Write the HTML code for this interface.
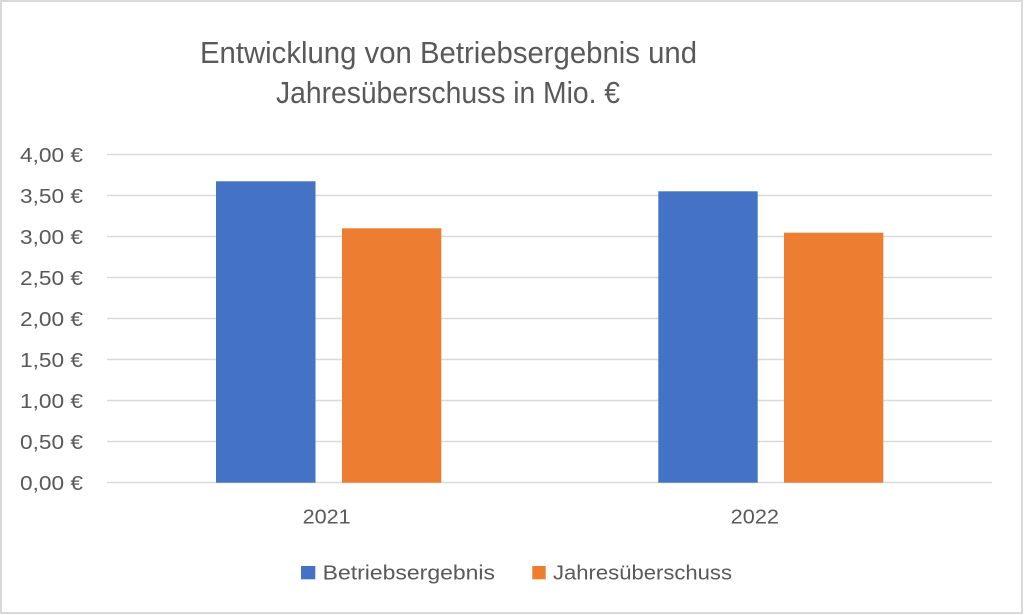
<!DOCTYPE html>
<html>
<head>
<meta charset="utf-8">
<style>
  html,body{margin:0;padding:0;background:#fff;}
  svg{display:block;}
  text{font-family:"Liberation Sans",Arial,sans-serif;fill:#595959;}
</style>
</head>
<body>
<svg width="1024" height="615" viewBox="0 0 1024 615" xmlns="http://www.w3.org/2000/svg">
  <rect x="0" y="0" width="1024" height="615" fill="#fff"/>
  <rect x="1" y="1" width="1021" height="612" fill="none" stroke="#d9d9d9" stroke-width="2"/>

  <!-- Title -->
  <text x="448.5" y="63" font-size="30.5" text-anchor="middle" textLength="497" lengthAdjust="spacingAndGlyphs">Entwicklung von Betriebsergebnis und</text>
  <text x="448" y="103" font-size="30.5" text-anchor="middle" textLength="344" lengthAdjust="spacingAndGlyphs">Jahresüberschuss in Mio. €</text>

  <!-- Gridlines -->
  <g stroke="#d9d9d9" stroke-width="1.5">
    <line x1="107" y1="154.5" x2="992" y2="154.5"/>
    <line x1="107" y1="195.5" x2="992" y2="195.5"/>
    <line x1="107" y1="236.5" x2="992" y2="236.5"/>
    <line x1="107" y1="277.5" x2="992" y2="277.5"/>
    <line x1="107" y1="318.5" x2="992" y2="318.5"/>
    <line x1="107" y1="359.5" x2="992" y2="359.5"/>
    <line x1="107" y1="400.5" x2="992" y2="400.5"/>
    <line x1="107" y1="441.5" x2="992" y2="441.5"/>
    <line x1="107" y1="482.5" x2="992" y2="482.5"/>
  </g>

  <!-- Y labels -->
  <g font-size="20" text-anchor="end">
    <text x="83" y="162" textLength="63" lengthAdjust="spacingAndGlyphs">4,00 €</text>
    <text x="83" y="203" textLength="63" lengthAdjust="spacingAndGlyphs">3,50 €</text>
    <text x="83" y="244" textLength="63" lengthAdjust="spacingAndGlyphs">3,00 €</text>
    <text x="83" y="285" textLength="63" lengthAdjust="spacingAndGlyphs">2,50 €</text>
    <text x="83" y="326" textLength="63" lengthAdjust="spacingAndGlyphs">2,00 €</text>
    <text x="83" y="367" textLength="63" lengthAdjust="spacingAndGlyphs">1,50 €</text>
    <text x="83" y="408" textLength="63" lengthAdjust="spacingAndGlyphs">1,00 €</text>
    <text x="83" y="449" textLength="63" lengthAdjust="spacingAndGlyphs">0,50 €</text>
    <text x="83" y="490" textLength="63" lengthAdjust="spacingAndGlyphs">0,00 €</text>
  </g>

  <!-- Bars -->
  <rect x="216" y="181.3" width="99.5" height="301.4" fill="#4472c4"/>
  <rect x="342" y="228.3" width="99.3" height="254.4" fill="#ed7d31"/>
  <rect x="658.3" y="191.3" width="99.4" height="291.4" fill="#4472c4"/>
  <rect x="784" y="232.7" width="99.3" height="250" fill="#ed7d31"/>

  <!-- X labels -->
  <g font-size="20">
    <text x="302.7" y="523.5" textLength="48" lengthAdjust="spacingAndGlyphs">2021</text>
    <text x="730.7" y="523.5" textLength="48.3" lengthAdjust="spacingAndGlyphs">2022</text>
  </g>

  <!-- Legend -->
  <rect x="301" y="566" width="14.3" height="13.3" fill="#4472c4"/>
  <text x="322.7" y="579.3" font-size="20" textLength="172.3" lengthAdjust="spacingAndGlyphs">Betriebsergebnis</text>
  <rect x="532.3" y="566" width="13.4" height="13.3" fill="#ed7d31"/>
  <text x="553" y="579.3" font-size="20" textLength="179" lengthAdjust="spacingAndGlyphs">Jahresüberschuss</text>
</svg>
</body>
</html>
